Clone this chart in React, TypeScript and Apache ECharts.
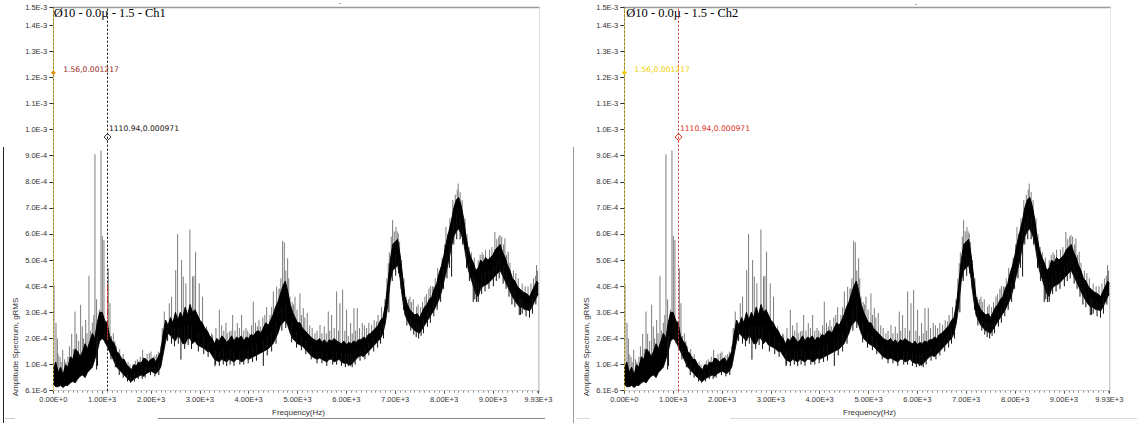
import { useEffect, useRef } from "react";
import * as echarts from "echarts";

// ---- data (amplitudes in units of 1e-4 gRMS) ----
const envFreqHz = [
  0, 50, 100, 150, 200, 250, 300, 350, 400, 450,
  500, 550, 600, 650, 700, 750, 800, 850, 900, 950,
  1000, 1050, 1100, 1150, 1200, 1250, 1300, 1350, 1400, 1450,
  1500, 1550, 1600, 1650, 1700, 1750, 1800, 1850, 1900, 1950,
  2000, 2050, 2100, 2150, 2200, 2250, 2300, 2350, 2400, 2450,
  2500, 2550, 2600, 2650, 2700, 2750, 2800, 2850, 2900, 2950,
  3000, 3050, 3100, 3150, 3200, 3250, 3300, 3350, 3400, 3450,
  3500, 3550, 3600, 3650, 3700, 3750, 3800, 3850, 3900, 3950,
  4000, 4050, 4100, 4150, 4200, 4250, 4300, 4350, 4400, 4450,
  4500, 4550, 4600, 4650, 4700, 4750, 4800, 4850, 4900, 4950,
  5000, 5050, 5100, 5150, 5200, 5250, 5300, 5350, 5400, 5450,
  5500, 5550, 5600, 5650, 5700, 5750, 5800, 5850, 5900, 5950,
  6000, 6050, 6100, 6150, 6200, 6250, 6300, 6350, 6400, 6450,
  6500, 6550, 6600, 6650, 6700, 6750, 6800, 6850, 6900, 6950,
  7000, 7050, 7100, 7150, 7200, 7250, 7300, 7350, 7400, 7450,
  7500, 7550, 7600, 7650, 7700, 7750, 7800, 7850, 7900, 7950,
  8000, 8050, 8100, 8150, 8200, 8250, 8300, 8350, 8400, 8450,
  8500, 8550, 8600, 8650, 8700, 8750, 8800, 8850, 8900, 8950,
  9000, 9050, 9100, 9150, 9200, 9250, 9300, 9350, 9400, 9450,
  9500, 9550, 9600, 9650, 9700, 9750, 9800, 9850, 9900, 9930,
];
const envUpperE4 = [
  0.8, 1.1, 0.7, 0.9, 0.6, 1.0, 0.9, 1.3, 1.2, 1.6,
  1.5, 1.3, 1.5, 1.8, 1.6, 1.9, 2.2, 2.0, 2.6, 3.0,
  3.0, 2.7, 2.6, 2.1, 1.9, 1.8, 1.5, 1.4, 1.2, 1.2,
  1.0, 0.9, 0.8, 1.0, 0.95, 1.1, 1.05, 1.25, 1.2, 1.1,
  1.2, 1.25, 1.1, 1.3, 1.5, 2.2, 2.7, 2.5, 2.8, 2.6,
  3.0, 2.7, 3.0, 2.8, 3.2, 2.9, 3.3, 3.0, 3.1, 2.9,
  2.7, 2.6, 2.4, 2.3, 2.1, 2.0, 1.8, 2.0, 1.9, 2.1,
  2.0, 1.85, 1.95, 2.1, 1.9, 2.05, 2.0, 2.1, 1.9, 2.05,
  2.0, 2.15, 2.1, 2.25, 2.3, 2.2, 2.4, 2.6, 2.5, 2.7,
  2.9, 3.2, 3.4, 3.7, 4.0, 4.2, 3.8, 3.3, 3.0, 2.8,
  2.6, 2.6, 2.4, 2.3, 2.2, 2.1, 2.0, 1.95, 1.9, 2.0,
  1.85, 1.95, 1.8, 1.95, 1.9, 2.0, 1.9, 1.85, 1.8, 1.9,
  1.75, 1.85, 1.8, 1.9, 1.85, 1.95, 1.95, 2.05, 2.0, 2.15,
  2.2, 2.3, 2.4, 2.5, 2.7, 2.8, 3.3, 4.1, 5.0, 5.6,
  5.7, 5.8, 5.2, 4.4, 3.6, 3.3, 3.1, 3.0, 2.9, 2.95,
  2.8, 3.0, 3.2, 3.3, 3.5, 3.6, 3.9, 4.1, 4.5, 4.8,
  5.2, 5.7, 6.1, 6.5, 7.0, 7.3, 7.4, 7.1, 6.6, 5.9,
  5.4, 5.1, 4.9, 4.6, 4.7, 5.0, 4.9, 5.1, 5.0, 5.1,
  5.2, 5.4, 5.5, 5.6, 5.3, 5.1, 4.8, 4.6, 4.3, 4.2,
  4.0, 3.9, 3.8, 3.75, 3.7, 3.6, 3.8, 4.0, 4.2, 4.1,
];
const envLowerE4 = [
  0.25, 0.15, 0.15, 0.2, 0.12, 0.2, 0.2, 0.3, 0.35, 0.3,
  0.45, 0.55, 0.6, 0.5, 0.7, 0.8, 0.9, 1.2, 1.5, 1.9,
  2.0, 1.9, 1.7, 1.5, 1.3, 1.1, 0.9, 0.8, 0.7, 0.6,
  0.5, 0.4, 0.35, 0.45, 0.5, 0.55, 0.6, 0.55, 0.65, 0.7,
  0.75, 0.7, 0.65, 0.75, 0.9, 1.4, 1.9, 2.2, 2.1, 2.0,
  1.9, 2.1, 2.0, 1.8, 1.8, 2.0, 2.0, 1.8, 1.9, 1.75,
  1.7, 1.65, 1.6, 1.5, 1.5, 1.35, 1.2, 1.15, 1.1, 1.2,
  1.15, 1.1, 1.2, 1.15, 1.1, 1.2, 1.2, 1.1, 1.15, 1.25,
  1.2, 1.25, 1.3, 1.35, 1.4, 1.45, 1.5, 1.55, 1.6, 1.7,
  1.8, 2.0, 2.2, 2.5, 2.6, 2.7, 2.5, 2.2, 2.0, 1.9,
  1.8, 1.75, 1.7, 1.6, 1.5, 1.4, 1.3, 1.25, 1.2, 1.25,
  1.2, 1.15, 1.1, 1.2, 1.2, 1.1, 1.15, 1.2, 1.1, 1.05,
  1.05, 1.0, 1.0, 1.1, 1.2, 1.3, 1.35, 1.3, 1.4, 1.5,
  1.6, 1.7, 1.8, 1.9, 2.0, 2.2, 2.6, 3.3, 4.2, 4.6,
  4.7, 4.8, 4.3, 3.5, 2.9, 2.7, 2.5, 2.4, 2.3, 2.25,
  2.2, 2.35, 2.5, 2.65, 2.8, 2.95, 3.1, 3.3, 3.5, 3.8,
  4.2, 4.6, 5.0, 5.5, 5.9, 6.1, 6.2, 6.0, 5.7, 5.1,
  4.6, 4.3, 4.0, 3.7, 3.6, 3.9, 4.0, 4.05, 4.1, 4.2,
  4.3, 4.4, 4.5, 4.6, 4.4, 4.2, 4.0, 3.8, 3.6, 3.45,
  3.3, 3.2, 3.2, 3.1, 3.1, 3.05, 3.2, 3.4, 3.6, 3.7,
];
const spikesUp: [number, number][] = [
  [14, 4.05], [55, 2.6], [83, 2.0], [100, 1.4], [137, 1.3], [160, 1.1], [192, 1.57], [230, 1.2],
  [260, 1.1], [300, 1.3], [330, 1.7], [376, 2.18], [410, 1.6], [444, 3.03], [478, 2.18], [520, 1.9],
  [560, 3.29], [594, 2.46], [620, 2.0], [663, 2.71], [690, 2.2], [730, 4.4], [760, 2.3], [799, 2.6],
  [830, 2.9], [853, 9.05], [887, 3.5], [942, 3.1], [976, 9.2], [1004, 5.92], [1037, 5.77],
  [1126, 4.69], [1160, 3.35], [1190, 2.1], [1229, 2.2], [1260, 1.9], [1290, 1.7], [1330, 1.5],
  [1360, 1.6], [1400, 1.3], [1430, 1.4], [1488, 1.06], [1530, 1.1], [1570, 1.0], [1630, 1.0],
  [1680, 1.15], [1720, 1.2], [1780, 1.3], [1829, 1.57], [1877, 1.25], [1920, 1.4], [1966, 1.44],
  [2000, 1.5], [2047, 1.3], [2080, 1.35], [2115, 1.4], [2150, 1.5], [2197, 1.7], [2230, 2.4],
  [2272, 3.03], [2375, 3.35], [2422, 3.6], [2506, 4.62], [2545, 6.0], [2627, 5.0], [2661, 4.37],
  [2715, 4.11], [2797, 6.17], [2851, 4.37], [2879, 4.4], [2913, 5.32], [2988, 4.11], [3056, 3.6],
  [3138, 2.46], [3241, 2.2], [3263, 2.14], [3330, 2.4], [3399, 3.1], [3447, 2.5], [3490, 2.3],
  [3535, 2.6], [3560, 2.2], [3604, 2.27], [3640, 2.3], [3672, 2.9], [3720, 2.3], [3767, 2.59],
  [3810, 2.4], [3856, 2.9], [3900, 2.3], [3945, 2.4], [3980, 2.3], [4013, 2.2], [4060, 2.5],
  [4095, 3.41], [4140, 2.6], [4177, 2.46], [4210, 2.7], [4245, 2.46], [4290, 2.8], [4330, 2.9],
  [4368, 3.2], [4436, 2.9], [4470, 3.2], [4505, 3.8], [4573, 3.98], [4620, 3.9], [4641, 3.92],
  [4660, 4.3], [4695, 5.74], [4730, 5.68], [4760, 4.6], [4798, 5.07], [4820, 4.3], [4846, 3.6],
  [4890, 3.4], [4920, 3.3], [4948, 3.6], [4990, 3.1], [5050, 3.73], [5080, 2.9], [5118, 3.16],
  [5150, 2.8], [5200, 2.97], [5250, 2.5], [5300, 2.4], [5357, 2.2], [5400, 2.3], [5460, 2.52],
  [5500, 2.2], [5548, 2.46], [5590, 2.2], [5630, 3.03], [5660, 2.3], [5698, 2.9], [5750, 2.4],
  [5801, 3.8], [5840, 2.3], [5869, 3.35], [5924, 3.86], [5970, 2.3], [6005, 3.1], [6040, 2.1],
  [6087, 2.59], [6120, 2.2], [6156, 3.16], [6190, 2.3], [6224, 3.16], [6270, 2.4], [6326, 2.59],
  [6370, 2.5], [6415, 2.4], [6460, 2.6], [6517, 2.52], [6570, 2.7], [6620, 2.65], [6650, 2.9],
  [6688, 2.52], [6720, 3.2], [6790, 3.5], [6830, 4.3], [6858, 4.88], [6880, 5.3], [6920, 5.9],
  [6947, 6.53], [6980, 6.1], [7015, 6.27], [7040, 6.1], [7063, 6.02], [7090, 5.7], [7130, 5.0],
  [7180, 4.3], [7225, 3.6], [7270, 3.5], [7302, 3.6], [7330, 3.4], [7370, 3.5], [7438, 3.22],
  [7470, 3.3], [7520, 3.2], [7560, 3.4], [7609, 3.6], [7640, 3.7], [7690, 3.9], [7720, 4.0],
  [7760, 4.0], [7779, 3.98], [7820, 4.3], [7870, 4.7], [7916, 4.5], [7960, 5.1], [8010, 5.6],
  [8039, 6.27], [8070, 6.0], [8120, 6.6], [8180, 7.3], [8230, 7.5], [8270, 7.7], [8291, 7.93],
  [8330, 7.6], [8370, 7.3], [8430, 6.6], [8470, 6.0], [8516, 5.5], [8560, 5.3], [8620, 5.1],
  [8700, 5.0], [8740, 5.2], [8780, 5.3], [8803, 5.2], [8850, 5.4], [8930, 5.4], [8980, 5.5],
  [9041, 6.08], [9080, 5.8], [9120, 5.9], [9144, 5.96], [9180, 5.9], [9220, 5.6], [9246, 5.83],
  [9280, 5.2], [9314, 5.32], [9350, 4.9], [9420, 4.6], [9470, 4.5], [9520, 4.3], [9600, 4.1],
  [9660, 4.0], [9720, 4.0], [9780, 4.1], [9830, 4.3], [9870, 4.4], [9894, 4.81], [9915, 4.6],
];
const dipsDown: [number, number][] = [
  [887, 0.81], [905, 0.95], [1060, 1.82], [1180, 1.2], [1270, 0.9], [1350, 0.6], [1430, 0.5],
  [1520, 0.35], [1580, 0.3], [1660, 0.35], [1740, 0.45], [1820, 0.45], [1880, 0.5], [1990, 0.6],
  [2080, 0.55], [2160, 0.6], [2340, 1.9], [2420, 1.8], [2480, 1.7], [2560, 1.8], [2613, 1.19],
  [2690, 1.6], [2760, 1.75], [2830, 1.6], [2970, 1.5], [3080, 1.4], [3170, 1.3], [3310, 0.94],
  [3323, 1.0], [3400, 0.95], [3480, 1.0], [3550, 0.94], [3620, 1.0], [3700, 0.95], [3820, 1.0],
  [3900, 1.0], [3990, 1.05], [4080, 1.1], [4160, 1.15], [4300, 0.95], [4380, 1.35], [4470, 1.5],
  [4560, 1.8], [4680, 2.3], [4760, 2.4], [4880, 1.85], [4980, 1.65], [5080, 1.55], [5170, 1.4],
  [5280, 1.2], [5400, 1.05], [5500, 1.05], [5600, 0.95], [5720, 1.0], [5800, 1.0], [5900, 0.95],
  [5980, 0.9], [6040, 0.94], [6080, 0.94], [6120, 0.9], [6180, 1.0], [6280, 1.15], [6380, 1.2],
  [6460, 1.35], [6560, 1.5], [6640, 1.65], [6700, 1.8], [6760, 2.0], [6870, 3.0], [6940, 4.2],
  [7010, 4.4], [7070, 4.5], [7120, 3.9], [7170, 3.1], [7240, 2.5], [7320, 2.3], [7380, 2.15],
  [7430, 2.05], [7480, 2.0], [7530, 2.1], [7580, 2.2], [7660, 2.45], [7720, 2.6], [7790, 2.85],
  [7860, 3.1], [7930, 3.4], [7990, 3.9], [8060, 4.3], [8110, 4.7], [8155, 4.37], [8200, 5.6],
  [8260, 5.8], [8330, 5.8], [8380, 5.6], [8460, 4.7], [8520, 4.2], [8598, 3.4], [8630, 3.5],
  [8666, 3.4], [8700, 3.4], [8770, 3.7], [8840, 3.8], [8920, 3.9], [9010, 4.0], [9070, 4.2],
  [9130, 4.3], [9210, 4.1], [9270, 3.9], [9330, 3.6], [9390, 3.3], [9450, 3.2], [9540, 2.9],
  [9567, 2.9], [9600, 2.95], [9680, 2.85], [9750, 2.8], [9810, 2.95], [9880, 3.3],
];
const cursorFreqHz = [1.56, 1110.94];
const cursorAmpE4 = [12.17, 9.71];
const ch1CursorRedSegE4 = [1.95, 4.1];
const channelTitles = ["Ø10 - 0.0µ - 1.5 - Ch1", "Ø10 - 0.0µ - 1.5 - Ch2"];
const yAxisTitle = "Amplitude Spectrum, gRMS";
const xAxisTitle = "Frequency(Hz)";
const X_MAX_HZ = 9930;
const Y_MAX_E4 = 14.68;

// ---- layout ----
const GRID_TOP = 7.3;
const GRID_H = 383.4;
const GRID_W = 485;
const PANEL_LEFTS = [53.3, 624.3];
const PANEL_SHIFT = 571;

const panels = [
  { c1Line: "#e6c619", c1Label: "#9a2a1c", c1Mark: "#e8900f", c2Line: "#111111", c2Label: "#111111", c2Mark: "#333333", redSeg: true },
  { c1Line: "#e6c619", c1Label: "#f0d000", c1Mark: "#f0c800", c2Line: "#e8301c", c2Label: "#e0301c", c2Mark: "#e8301c", redSeg: false },
];

function midBand(f: number): number {
  let i = 0;
  while (i < envFreqHz.length - 2 && envFreqHz[i + 1] < f) i++;
  const f0 = envFreqHz[i], f1 = envFreqHz[i + 1];
  const t = Math.min(1, Math.max(0, (f - f0) / (f1 - f0)));
  const m0 = (envLowerE4[i] + envUpperE4[i]) / 2;
  const m1 = (envLowerE4[i + 1] + envUpperE4[i + 1]) / 2;
  return m0 * (1 - t) + m1 * t;
}

const TICK_FONT = "Liberation Sans";
const CUR_FONT = "DejaVu Sans";

export default function App() {
  const ref = useRef<HTMLDivElement>(null);
  useEffect(() => {
    if (!ref.current) return;
    const chart = echarts.init(ref.current, null, { renderer: "svg" });

    const spikeData: any[] = [];
    spikesUp.forEach(([f, v]) => {
      spikeData.push([f, midBand(f)], [f, v], [f, "-"]);
    });
    const dipData: any[] = [];
    dipsDown.forEach(([f, v]) => {
      dipData.push([f, midBand(f)], [f, v], [f, "-"]);
    });
    const lowerData = envFreqHz.map((f, k) => [f, envLowerE4[k]]);
    const upperData = envFreqHz.map((f, k) => [f, envUpperE4[k]]);

    const grids: any[] = [];
    const xAxes: any[] = [];
    const yAxes: any[] = [];
    const series: any[] = [];
    const titles: any[] = [];
    const graphics: any[] = [];

    panels.forEach((p, i) => {
      const left = PANEL_LEFTS[i];
      grids.push({ left, top: GRID_TOP, width: GRID_W, height: GRID_H, containLabel: false });
      xAxes.push({
        type: "value", gridIndex: i, min: 0, max: X_MAX_HZ, interval: 1000,
        axisLine: { show: false },
        axisTick: { show: true, length: 3, lineStyle: { color: "#555", width: 1 } },
        minorTick: { show: true, splitNumber: 10, length: 2, lineStyle: { color: "#888", width: 1 } },
        splitLine: { show: false }, minorSplitLine: { show: false },
        axisLabel: {
          show: true, showMinLabel: true, showMaxLabel: true, margin: 5,
          fontFamily: TICK_FONT, fontSize: 7.5, color: "#333",
          formatter: (v: number) => v.toExponential(2).toUpperCase(),
        },
      });
      yAxes.push({
        type: "value", gridIndex: i, min: 0, max: Y_MAX_E4, interval: 1,
        axisLine: { show: true, lineStyle: { color: "#777", width: 1 } },
        axisTick: { show: true, length: 4, lineStyle: { color: "#333", width: 1 } },
        splitLine: { show: false },
        axisLabel: {
          show: true, showMinLabel: true, showMaxLabel: true, margin: 6,
          fontFamily: TICK_FONT, fontSize: 7.5, color: "#333",
          formatter: (v: number) => (v === 0 ? "6.1E-6" : (v * 1e-4).toExponential(1).toUpperCase()),
        },
      });
      series.push({
        type: "line", xAxisIndex: i, yAxisIndex: i, data: spikeData, symbol: "none", showSymbol: false,
        connectNulls: false, silent: true, lineStyle: { color: "#7b7b7b", width: 1 }, z: 2,
      });
      series.push({
        type: "line", xAxisIndex: i, yAxisIndex: i, data: upperData, symbol: "none",
        showSymbol: false, silent: true, lineStyle: { color: "#000", width: 1 },
        areaStyle: { color: "#000", opacity: 1, origin: "start" }, z: 3,
      });
      series.push({
        type: "line", xAxisIndex: i, yAxisIndex: i, data: lowerData, symbol: "none",
        showSymbol: false, silent: true, lineStyle: { color: "#000", width: 0.8 },
        areaStyle: { color: "#fff", opacity: 1, origin: "start" }, z: 3,
      });
      series.push({
        type: "line", xAxisIndex: i, yAxisIndex: i, data: dipData, symbol: "none", showSymbol: false,
        connectNulls: false, silent: true, lineStyle: { color: "#111", width: 1 }, z: 4,
      });
      const mlData: any[] = [
        { xAxis: cursorFreqHz[0], lineStyle: { color: p.c1Line, type: [2, 2], width: 1 } },
        { xAxis: cursorFreqHz[1], lineStyle: { color: p.c2Line, type: [2, 2], width: 1 } },
      ];
      if (p.redSeg) {
        mlData.push([
          { coord: [cursorFreqHz[1], ch1CursorRedSegE4[0]], lineStyle: { color: "#e0301c", type: [2, 1], width: 1 } },
          { coord: [cursorFreqHz[1], ch1CursorRedSegE4[1]] },
        ]);
      }
      const label = (k: number) => `${cursorFreqHz[k]},${(cursorAmpE4[k] * 1e-4).toFixed(6)}`;
      series.push({
        type: "line", xAxisIndex: i, yAxisIndex: i,
        data: cursorFreqHz.map((f, k) => [f, cursorAmpE4[k]]),
        symbol: "none", showSymbol: false, silent: true, lineStyle: { opacity: 0, width: 0 }, z: 6,
        markLine: { silent: true, symbol: ["none", "none"], label: { show: false }, data: mlData, animation: false },
        markPoint: {
          silent: true, animation: false,
          data: [
            {
              coord: [cursorFreqHz[0], cursorAmpE4[0]], symbol: "diamond", symbolSize: 5,
              itemStyle: { color: p.c1Mark },
              label: {
                show: true, position: "right", distance: 0, offset: [7.4, -2.9],
                formatter: label(0), color: p.c1Label, fontFamily: CUR_FONT, fontSize: 7.6,
              },
            },
            {
              coord: [cursorFreqHz[1], cursorAmpE4[1]], symbol: "diamond", symbolSize: 7,
              itemStyle: { color: "rgba(255,255,255,0)", borderColor: p.c2Mark, borderWidth: 1 },
              label: {
                show: true, position: "right", distance: 0, offset: [-2.6, -8.4],
                formatter: label(1), color: p.c2Label, fontFamily: CUR_FONT, fontSize: 7.6,
              },
            },
          ],
        },
      });
      titles.push({
        text: channelTitles[i], left: left + 0.5 + (i === 1 ? 1.5 : 0), top: 6, padding: 0,
        textStyle: { fontFamily: "Liberation Serif", fontSize: 12.5, fontWeight: "normal", color: "#000" },
      });
      const sx = i * PANEL_SHIFT;
      graphics.push(
        { type: "text", x: 15 + sx, y: 347, rotation: Math.PI / 2, silent: true,
          style: { text: yAxisTitle, fontFamily: TICK_FONT, fontSize: 8, fill: "#333", align: "center", verticalAlign: "middle" } },
        { type: "text", x: 272 + sx, y: 412, silent: true,
          style: { text: xAxisTitle, fontFamily: TICK_FONT, fontSize: 8, fill: "#333", align: "left", verticalAlign: "middle" } },
        { type: "line", silent: true, shape: { x1: left - 1, y1: 7.5, x2: left + GRID_W + 2, y2: 7.5 },
          style: { stroke: "#9a9a9a", lineWidth: 1.5 } },
        { type: "line", silent: true, shape: { x1: left + GRID_W + 1.2, y1: 7, x2: left + GRID_W + 1.2, y2: 392 },
          style: { stroke: i === 0 ? "#e2e2e2" : "#e2eeee", lineWidth: 1 } },
      );
    });

    graphics.push(
      { type: "line", silent: true, shape: { x1: 3.5, y1: 147, x2: 3.5, y2: 423 }, style: { stroke: "#222", lineWidth: 1 } },
      { type: "line", silent: true, shape: { x1: 573.5, y1: 147, x2: 573.5, y2: 423 }, style: { stroke: "#999", lineWidth: 1 } },
      { type: "line", silent: true, shape: { x1: 158, y1: 418.5, x2: 545, y2: 418.5 }, style: { stroke: "#888", lineWidth: 1 } },
      { type: "line", silent: true, shape: { x1: 730, y1: 418.5, x2: 1137, y2: 418.5 }, style: { stroke: "#d8d8d8", lineWidth: 1 } },
      { type: "line", silent: true, shape: { x1: 5, y1: 418.5, x2: 15, y2: 418.5 }, style: { stroke: "#ccc", lineWidth: 1 } },
      { type: "line", silent: true, shape: { x1: 576, y1: 418.5, x2: 590, y2: 418.5 }, style: { stroke: "#ddd", lineWidth: 1 } },
      { type: "rect", silent: true, shape: { x: 339, y: 3, width: 2, height: 1 }, style: { fill: "#aaa" } },
      { type: "rect", silent: true, shape: { x: 915, y: 4, width: 2, height: 1 }, style: { fill: "#aaa" } },
    );

    chart.setOption({
      animation: false,
      backgroundColor: "#ffffff",
      title: titles,
      grid: grids,
      xAxis: xAxes,
      yAxis: yAxes,
      series,
      graphic: graphics,
    });
    return () => chart.dispose();
  }, []);
  return (
    <div
      ref={ref}
      style={{ position: "fixed", left: 0, top: 0, width: 1137, height: 423, background: "#fff" }}
    />
  );
}
